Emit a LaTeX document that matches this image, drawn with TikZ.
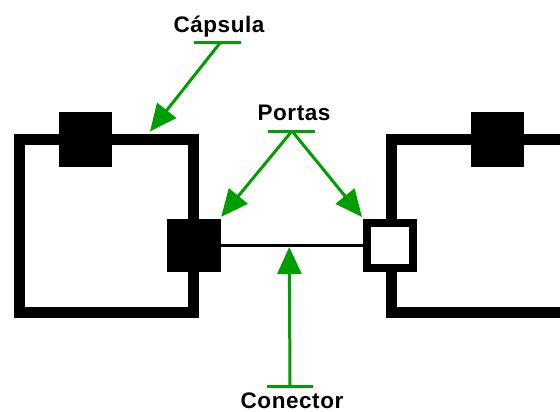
\documentclass[tikz,border=0pt]{standalone}
\usepackage{fontspec}
\newfontfamily\lblfont{Liberation Sans}[LetterSpace=2.5]
\usetikzlibrary{arrows.meta,calc}
\definecolor{lblgreen}{RGB}{0,158,0}
\begin{document}
\begin{tikzpicture}[x=1pt,y=-1pt,
  capsule/.style={draw=black,line width=11pt,inner sep=0pt,fill=none},
  blk/.style={fill=black,inner sep=0pt},
  openport/.style={draw=black,fill=white,line width=8pt,inner sep=0pt},
  lbl/.style={font=\lblfont\bfseries\fontsize{22.5pt}{24pt}\selectfont,anchor=base,inner sep=0pt},
  uline/.style={draw=lblgreen,line width=3pt},
  pointer/.style={draw=lblgreen,line width=3pt,-{Triangle[length=27pt,width=24pt]}},
  wire/.style={draw=black,line width=3pt}]
\useasboundingbox[fill=white] (0,0) rectangle (560,412);
% capsules
\node[capsule,minimum width=174pt,minimum height=173.5pt] (capL) at (106.5,225.75) {};
\node[capsule,minimum width=209pt,minimum height=173.5pt] (capR) at (495.5,225.75) {};
% top squares on capsules
\node[blk,minimum width=53pt,minimum height=55pt] (sqL) at (85.5,139.5) {};
\node[blk,minimum width=53pt,minimum height=55pt] (sqR) at (497.5,139.5) {};
% ports
\node[blk,minimum width=54pt,minimum height=53pt] (pL) at (194,245.5) {};
\node[openport,minimum width=46pt,minimum height=45pt] (pR) at (390,245.5) {};
% connector
\draw[wire] (pL.east) -- (pR.west) coordinate[pos=0.48] (cmid);
% labels
\node[lbl] (tC) at (219,33) {Cápsula};
\node[lbl] (tP) at (294,121) {Portas};
\node[lbl] (tK) at (292,408.5) {Conector};
% underlines
\coordinate (uC1) at (194,43); \coordinate (uC2) at (241,43); \coordinate (sC) at (220,43);
\coordinate (uP1) at (268,131); \coordinate (uP2) at (315,131); \coordinate (sP) at (292,131);
\coordinate (uK1) at (267,386); \coordinate (uK2) at (313,386); \coordinate (sK) at (290,386);
\draw[uline] (uC1) -- (uC2);
\draw[uline] (uP1) -- (uP2);
\draw[uline] (uK1) -- (uK2);
% pointers
\draw[pointer] (sC) -- ($(capL.north)+(43.5,-2)$);
\draw[pointer] (sP) -- ($(pL.north east)+(0,-2)$);
\draw[pointer] (sP) -- ($(pR.north west)+(-1,-2)$);
\draw[pointer] (sK) -- ($(cmid)+(0,1.5)$);
\end{tikzpicture}
\end{document}
